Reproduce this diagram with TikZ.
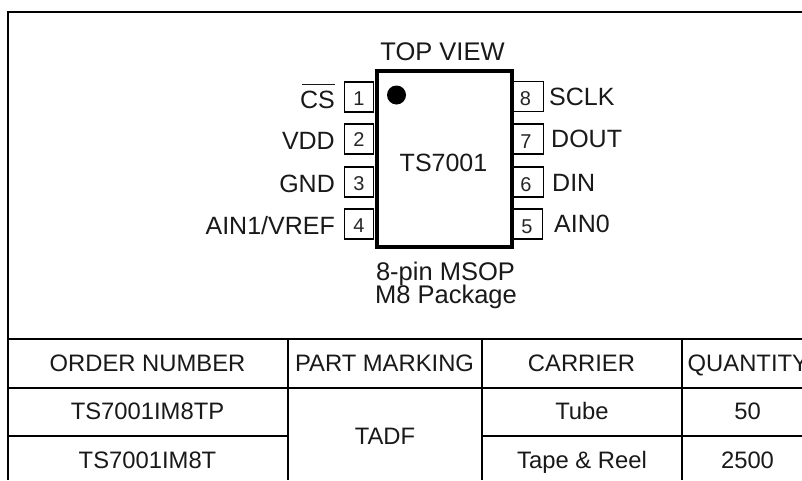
\documentclass[tikz,border=0pt]{standalone}
\usepackage{fontspec}
\setmainfont{Liberation Sans}
\tikzset{
  x=1pt,y=-1pt,
  frameline/.style={line width=2.2pt,black},
  pinbox/.style={draw=black,line width=1.3pt,fill=white,minimum width=29.5pt,minimum height=30pt,inner sep=0pt},
  chip/.style={draw=black,line width=4pt,minimum width=135pt,minimum height=176.5pt,inner sep=0pt},
  lab/.style={inner sep=0pt,text=black!90,font=\fontsize{23.8pt}{24pt}\selectfont,anchor=base},
  pinlab/.style={inner sep=0pt,text=black!90,font=\fontsize{25pt}{25pt}\selectfont},
  biglab/.style={inner sep=0pt,text=black!90,font=\fontsize{25.5pt}{26pt}\selectfont,anchor=base},
  pinnum/.style={inner sep=0pt,text=black!85,font=\fontsize{20pt}{20pt}\selectfont,anchor=base}
}
\begin{document}
\begin{tikzpicture}
\useasboundingbox (0,0) rectangle (802,480);
\clip (0,0) rectangle (802,480);
\fill[white] (0,0) rectangle (802,480);
% frame and table
\draw[frameline] (802,12) -- (8,12) -- (8,480);
\draw[frameline] (8,339) -- (802,339);
\draw[frameline] (8,388) -- (802,388);
\draw[frameline] (8,436) -- (288,436);
\draw[frameline] (482,436) -- (802,436);
\draw[frameline] (288,339) -- (288,480);
\draw[frameline] (482,339) -- (482,480);
\draw[frameline] (682,339) -- (682,480);
% pins
\node[pinbox] (p1) at (359,97) {};
\node[pinbox] (p2) at (359,139) {};
\node[pinbox] (p3) at (359,182) {};
\node[pinbox] (p4) at (359,224) {};
\node[pinbox] (p8) at (528.5,96.5) {};
\node[pinbox] (p7) at (528.5,139) {};
\node[pinbox] (p6) at (528.5,182) {};
\node[pinbox] (p5) at (528,224) {};
% package
\node[chip] (ic) at (444,159.2) {};
\fill[black] (396.5,95) circle (9.5pt);
% pin numbers
\node[pinnum] (n1) at (359,105) {1};
\node[pinnum] (n2) at (359,146.7) {2};
\node[pinnum] (n3) at (359,190) {3};
\node[pinnum] (n4) at (359,232) {4};
\node[pinnum] (n8) at (525.5,105) {8};
\node[pinnum] (n7) at (526,148) {7};
\node[pinnum] (n6) at (526,191.5) {6};
\node[pinnum] (n5) at (527,233) {5};
% pin labels
\node[pinlab,anchor=base east] (cs) at (335,108) {CS};
\draw[line width=1.1pt,black!90] (302,84.5) -- (335,84.5);
\node[pinlab,anchor=base east] (vdd) at (335,149) {VDD};
\node[pinlab,anchor=base east] (gnd) at (335,192) {GND};
\node[pinlab,anchor=base east] (ain1) at (335,234) {AIN1/VREF};
\node[pinlab,anchor=base west] (sclk) at (549,105) {SCLK};
\node[pinlab,anchor=base west] (dout) at (551,147) {DOUT};
\node[pinlab,anchor=base west] (din) at (552,191) {DIN};
\node[pinlab,anchor=base west] (ain0) at (554,232) {AIN0};
% centre labels
\node[biglab] (top) at (442.5,60) {TOP VIEW};
\node[pinlab,anchor=base] (name) at (443.5,171) {TS7001};
\node[biglab] (pk1) at (445.5,280) {8-pin MSOP};
\node[biglab] (pk2) at (446,303) {M8 Package};
% table text
\node[lab] (h1) at (147.5,371.5) {ORDER NUMBER};
\node[lab] (h2) at (384.5,371.5) {PART MARKING};
\node[lab] (h3) at (581.5,371.5) {CARRIER};
\node[lab,anchor=base west] (h4) at (687.5,371.5) {QUANTITY};
\node[lab] (r1) at (147.5,419.5) {TS7001IM8TP};
\node[lab] (r2) at (147.5,468) {TS7001IM8T};
\node[lab] (mark) at (385,444) {TADF};
\node[lab] (c1) at (582,419.5) {Tube};
\node[lab] (c2) at (582,468) {Tape \& Reel};
\node[lab] (q1) at (747.5,419.5) {50};
\node[lab] (q2) at (747.5,468) {2500};
\end{tikzpicture}
\end{document}
